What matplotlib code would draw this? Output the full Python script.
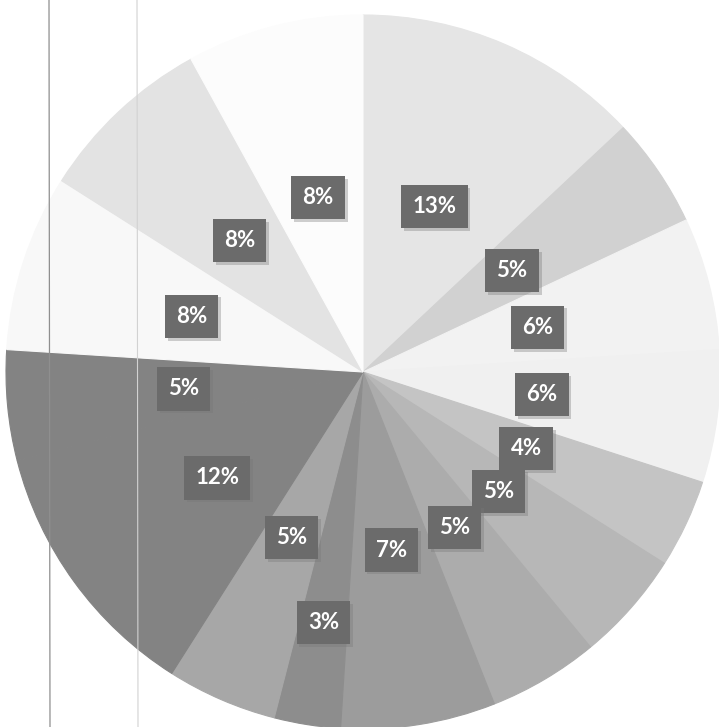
import matplotlib
matplotlib.use("Agg")
import matplotlib.pyplot as plt
import matplotlib.patheffects as pe
import numpy as np
from matplotlib.lines import Line2D

# data (clockwise from 12 o'clock)
shares = [13, 5, 6, 6, 4, 5, 5, 7, 3, 5, 12, 5, 8, 8, 8]
labels = [f"{v}%" for v in shares]
colors = ["#e5e5e5", "#d1d1d1", "#f2f2f2", "#f0f0f0", "#c4c4c4", "#b7b7b7",
          "#acacac", "#9c9c9c", "#8d8d8d", "#a7a7a7", "#838383", "#838383",
          "#f8f8f8", "#e3e3e3", "#fcfcfc"]

W, H = 719, 727
cx, cy, R = 363, 372, 357

fig = plt.figure(figsize=(W / 100, H / 100), dpi=100)
fig.patch.set_facecolor("white")
ax = fig.add_axes([0, 0, 1, 1])

wedges, _ = ax.pie(shares, colors=colors, startangle=90, counterclock=False,
                   radius=1.0)
for w, c in zip(wedges, colors):
    w.set_edgecolor(c)
    w.set_linewidth(0.8)
ax.set_xlim(-cx / R, (W - cx) / R)
ax.set_ylim(-(H - cy) / R, cy / R)
ax.set_aspect("auto")
ax.axis("off")

label_dist = [0.505] * len(shares)
label_dist[8] = 0.71
for w, lab, d in zip(wedges, labels, label_dist):
    mid = np.deg2rad((w.theta1 + w.theta2) / 2)
    x, y = d * np.cos(mid), d * np.sin(mid)
    t = ax.text(x, y, lab, ha="center", va="center", fontsize=16,
                fontweight="bold", family=["Lato", "DejaVu Sans"], color="white",
                bbox=dict(boxstyle="square,pad=0.5", facecolor="#6b6b6b",
                          edgecolor="none"))
    t.get_bbox_patch().set_path_effects(
        [pe.SimplePatchShadow(offset=(2, -2), shadow_rgbFace="#777777", alpha=0.35),
         pe.Normal()])

# faint vertical lines from the scanned page
fig.add_artist(Line2D([49 / W, 50 / W], [1, 0], color="#8f8f8f", lw=0.9))
fig.add_artist(Line2D([137 / W, 138 / W], [1, 0], color="#d2d2d2", lw=0.8))

fig.savefig("out.png", dpi=100, facecolor="white")
